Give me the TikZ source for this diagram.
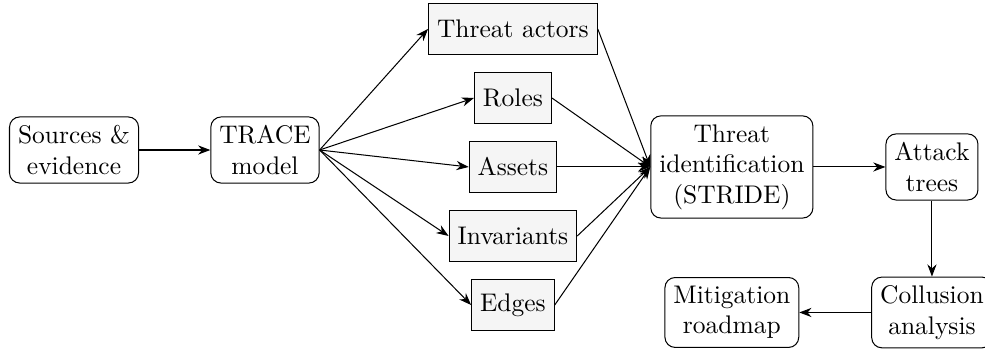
\documentclass[tikz,border=0pt]{standalone}
\usepackage{tikz}
\usetikzlibrary{arrows.meta,positioning}

\begin{document}
\begin{tikzpicture}[>={Stealth}, auto,
    stage/.style={draw, rounded corners=4pt, align=center},
    facet/.style={draw, fill=gray!8, minimum height=7mm}]
    \useasboundingbox (-1.021,-2.814) rectangle (12.566,2.069);

    % Nodes {sources, trace, facets, stride, etc}
    \node [stage]   (sources)                                      {Sources \&\\evidence};
    \node [stage]   (trace)   [right of=sources, node distance=2.634cm] {TRACE\\model};
    \node [facet]   (assets)  [right of=trace, node distance=3.42cm, yshift=-0.234cm] {Assets};
    \node [facet]   (roles)   [above of=assets, node distance=0.952cm]  {Roles};
    \node [facet]   (actors)  [above of=roles, node distance=0.952cm]   {Threat actors};
    \node [facet]   (invar)   [below of=assets, node distance=0.952cm]  {Invariants};
    \node [facet]   (edges)   [below of=invar, node distance=0.952cm]   {Edges};
    \node [stage]   (stride)  [right of=assets, node distance=3.02cm]   {Threat\\identification\\(STRIDE)};
    \node [stage]   (trees)   [right of=stride, node distance=2.76cm]   {Attack\\trees};
    \node [stage]   (collude) [below of=trees, node distance=2.007cm]   {Collusion\\analysis};
    \node [stage]   (mitig)   [left of=collude, node distance=2.76cm]   {Mitigation\\roadmap};

    % Paths
    \path [->] (sources) edge (trace);
    \path [->] (trace.east) edge (actors.west);
    \path [->] (trace.east) edge (roles.west);
    \path [->] (trace.east) edge (assets.west);
    \path [->] (trace.east) edge (invar.west);
    \path [->] (trace.east) edge (edges.west);
    \path [->] (actors.east) edge (stride.west);
    \path [->] (roles.east)  edge (stride.west);
    \path [->] (assets.east) edge (stride.west);
    \path [->] (invar.east)  edge (stride.west);
    \path [->] (edges.east)  edge (stride.west);
    \path [->] (stride) edge (trees);
    \path [->] (trees) edge (collude);
    \path [->] (collude) edge (mitig);

\end{tikzpicture}
\end{document}
